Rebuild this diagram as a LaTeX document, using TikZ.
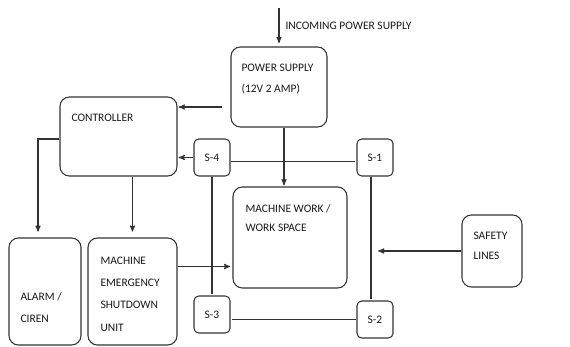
\documentclass[tikz,border=0pt]{standalone}
\usepackage{fontspec}
\setmainfont{Carlito}
\usetikzlibrary{arrows,shapes,positioning}

\tikzset{
  blk/.style={draw=black!80,line width=0.9pt,rounded corners=8pt,inner sep=0pt},
  sblk/.style={blk,rounded corners=4pt,minimum width=1.08cm,minimum height=1.11cm,
    font=\fontsize{9.8}{12}\selectfont,text=black!90},
  lbl/.style={font=\fontsize{9.8}{18.5}\selectfont,align=left,inner sep=0pt,text=black!90},
}

\begin{document}
\begin{tikzpicture}[x=0.03cm,y=-0.03cm,->,>=stealth',shorten >=1pt,line width=0.9pt,draw=black!80]
  \useasboundingbox (0,0) rectangle (570,347);

  % boxes
  \node[blk,minimum width=2.88cm,minimum height=2.4cm]  (ps)     at (279,87)    {};
  \node[blk,minimum width=3.51cm,minimum height=2.37cm] (ctrl)   at (118.5,136.5) {};
  \node[blk,minimum width=3.42cm,minimum height=3.03cm] (mw)     at (290,237.5) {};
  \node[blk,minimum width=2.16cm,minimum height=3.21cm] (alarm)  at (45,291.5)  {};
  \node[blk,minimum width=2.67cm,minimum height=3.21cm] (mesu)   at (132.5,291.5) {};
  \node[blk,minimum width=1.8cm,minimum height=2.16cm]  (safety) at (492,251)   {};
  \node[sblk] (s4) at (212,157.5) {S-4};
  \node[sblk] (s1) at (375,157.5) {S-1};
  \node[sblk] (s3) at (212,314.5) {S-3};
  \node[sblk] (s2) at (375,319.5) {S-2};

  % texts (base = baseline of last line)
  \node[lbl,anchor=base west] (inctxt)    at (285,30)   {INCOMING POWER SUPPLY};
  \node[lbl,anchor=base west] (pstxt)     at (241,93)   {POWER SUPPLY\\(12V 2 AMP)};
  \node[lbl,anchor=base west] (ctrltxt)   at (71,121.5) {CONTROLLER};
  \node[lbl,anchor=base west,font=\fontsize{9.8}{17}\selectfont] (mwtxt) at (245,232)
    {MACHINE WORK /\\WORK SPACE};
  \node[lbl,anchor=base west] (alarmtxt)  at (20,322)   {ALARM /\\CIREN};
  \node[lbl,anchor=base west,font=\fontsize{9.8}{19}\selectfont] (mesutxt) at (100,331)
    {MACHINE\\EMERGENCY\\SHUTDOWN\\UNIT};
  \node[lbl,anchor=base west,font=\fontsize{9.8}{17}\selectfont] (safetytxt) at (473,259)
    {SAFETY\\LINES};

  % connectors
  \coordinate (in)    at (279,8);
  \coordinate (psout) at (222,107);
  \coordinate (slend) at (377,251);
  \draw[shorten >=3pt] (in) -- (ps.north);
  \draw (psout) -- (psout -| ctrl.east);
  \draw (s4.west) -- (s4.west -| ctrl.east);
  \draw[-] ([yshift=-0.13cm]s4.east) -- ([yshift=-0.13cm]s1.west);
  \draw ([xshift=0.15cm]ps.south) -- ([xshift=0.15cm]ps.south |- mw.north);
  \draw[shorten >=5pt] ([yshift=-0.075cm]ctrl.west) -| ([xshift=-0.21cm]alarm.north);
  \draw[shorten >=5pt] (ctrl.south -| mesu.north) -- (mesu.north);
  \draw[shorten >=2pt] ([yshift=0.75cm]mesu.east) -- ([yshift=0.75cm]mesu.east -| mw.west);
  \draw[-] (s4) -- (s3);
  \draw[-] ([xshift=-0.12cm]s1.south) -- ([xshift=-0.12cm]s1.south |- s2.north);
  \draw[-] (s2.west) -- (s2.west -| s3.east);
  \draw (safety.west) -- (slend);
\end{tikzpicture}
\end{document}
